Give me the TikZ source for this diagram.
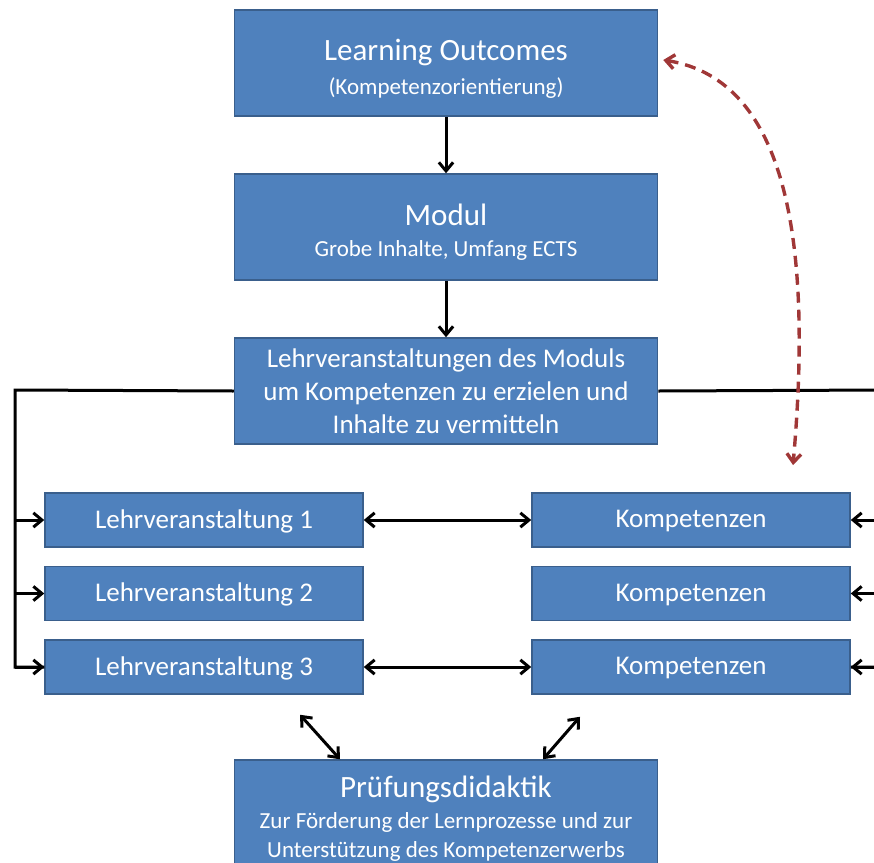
\documentclass[tikz,border=0pt]{standalone}
\usepackage{fontspec}
\setmainfont{Carlito}
\usetikzlibrary{arrows.meta, chains, positioning}
\definecolor{boxblue}{RGB}{79,129,189}
\definecolor{boxline}{RGB}{58,95,140}
\definecolor{linkred}{RGB}{160,55,55}
\newcommand{\boxhead}{\fontsize{31}{36}\selectfont\rule{0pt}{32pt}}
\tikzset{%
  >={Straight Barb[length=3mm,width=5mm]},
  % Specifications for style of nodes:
  base/.style = {draw=boxline, line width=1.5pt, fill=boxblue, text=white,
                 align=center, inner sep=0pt},
  bigbox/.style = {base, on grid, minimum width=423pt, minimum height=106pt,
                   font=\fontsize{23}{34}\selectfont},
  smallbox/.style = {base, on grid, minimum width=318pt, minimum height=54pt,
                     font=\fontsize{27}{30}\selectfont, text depth=2pt},
  norm/.style={->, draw, black, line width=3pt},
  both/.style={<->, draw, black, line width=3pt},
  dashlink/.style={<->, draw, linkred, line width=3.4pt, dash pattern=on 11pt off 7pt},
}

\begin{document}
\begin{tikzpicture}[
  x=1pt, y=-1pt,
  start chain=going below,    % main boxes top-to-bottom
  node distance=164pt,
  every join/.style={norm},
]
  \useasboundingbox (0,0) rectangle (874,862);
  % main chain
  \node (lo) [bigbox, on chain] at (446,63)
    {{\boxhead Learning Outcomes}\\(Kompetenzorientierung)};
  \node (modul) [bigbox, on chain, join]
    {{\boxhead Modul}\\[-3pt]Grobe Inhalte, Umfang ECTS};
  \node (lv) [bigbox, on chain, join, node distance=163pt, font=\fontsize{27}{33}\selectfont]
    {Lehrveranstaltungen des Moduls\\ um Kompetenzen zu erzielen und\\ Inhalte zu vermitteln};

  % courses and competences
  \node (lv1) [smallbox] at (204,520) {Lehrveranstaltung 1};
  \node (lv2) [smallbox, below=73.5pt of lv1] {Lehrveranstaltung 2};
  \node (lv3) [smallbox, below=73.5pt of lv2] {Lehrveranstaltung 3};
  \node (k1) [smallbox, right=487pt of lv1] {Kompetenzen};
  \node (k2) [smallbox, right=487pt of lv2] {Kompetenzen};
  \node (k3) [smallbox, right=487pt of lv3] {Kompetenzen};

  \node (pruef) [bigbox] at (446,813)
    {{\boxhead Prüfungsdidaktik}\\[-3pt]Zur Förderung der Lernprozesse und zur\\[-5pt]
     Unterstützung des Kompetenzerwerbs};

  % side buses
  \coordinate (busl) at (15,390);
  \coordinate (busr) at (884,390);
  \draw [line width=3pt] (lv.west) -- (busl) |- (lv3.west);
  \draw [line width=3pt] (lv.east) -- (busr) |- (k3.east);
  \foreach \n in {lv1,lv2,lv3}
    \draw [norm] (busl |- \n.west) -- (\n.west);
  \foreach \n in {k1,k2,k3}
    \draw [norm] (busr |- \n.east) -- (\n.east);

  \draw [both] (lv1) -- (k1);
  \draw [both] (lv3) -- (k3);
  \draw [both] ([shift={(96pt,-20pt)}]lv3.south) -- ([xshift=-106pt]pruef.north);
  \draw [both] ([shift={(-111pt,-22pt)}]k3.south) -- ([xshift=97pt]pruef.north);

  \coordinate (kmark) at (793,465);
  \draw [dashlink] ([xshift=5pt,yshift=3pt]lo.east) .. controls (790,80) and (812,250) .. (kmark);
\end{tikzpicture}
\end{document}
